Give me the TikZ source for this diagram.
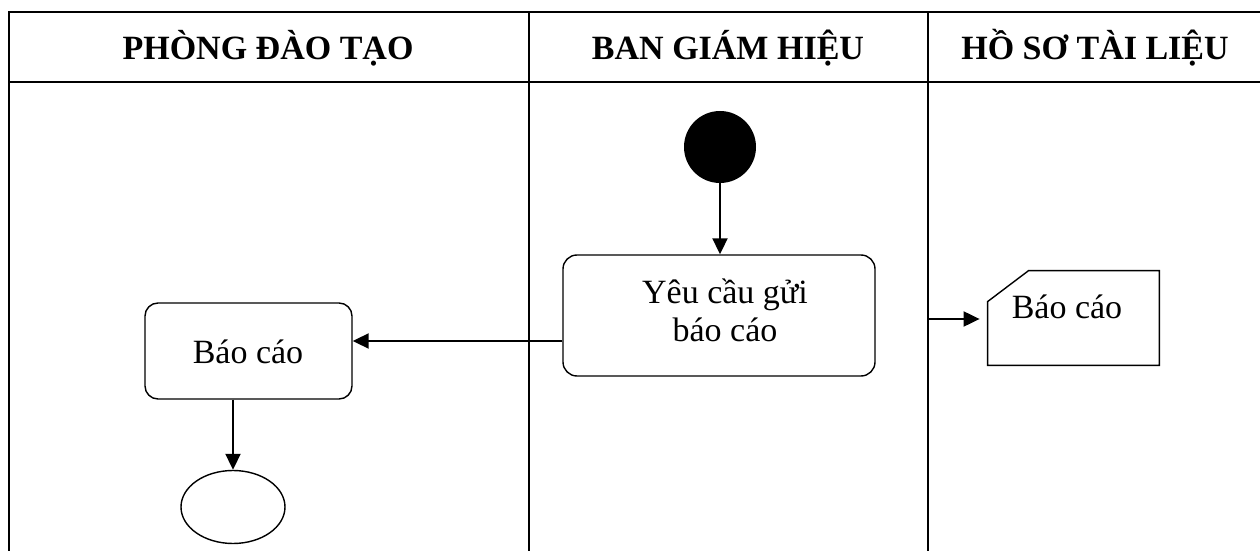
\documentclass[tikz,border=0pt]{standalone}
\usepackage{fontspec}
\setmainfont{Liberation Serif}
\usetikzlibrary{arrows.meta,shapes.geometric}
\begin{document}
\begin{tikzpicture}[x=0.5pt,y=-0.5pt,
  lane/.style={line width=1pt},
  hdr/.style={font=\fontsize{17}{19}\selectfont\bfseries, anchor=base, inner sep=0pt},
  txt/.style={font=\fontsize{17}{19.5}\selectfont, anchor=base, inner sep=0pt},
  act/.style={draw, line width=0.7pt, rounded corners=7pt, inner sep=0pt},
  flow/.style={line width=1pt, -{Triangle[length=8pt,width=7.5pt]}},
]
\useasboundingbox (0,0) rectangle (1260,551);
% swimlane frame
\coordinate (tl) at (9,12);
\coordinate (hl) at (9,82);
\coordinate (c1) at (529,12);
\coordinate (c2) at (928,12);
\draw[lane] (1270,12) -- (tl) -- (9,560);
\draw[lane] (hl) -- (1270,82);
\draw[lane] (c1) -- (529,560);
\draw[lane] (c2) -- (928,560);
% headers
\node[hdr] (h1) at (268,60) {PHÒNG ĐÀO TẠO};
\node[hdr] (h2) at (728,60) {BAN GIÁM HIỆU};
\node[hdr] (h3) at (1095,60) {HỒ SƠ TÀI LIỆU};
% start
\node[circle, fill=black, minimum size=36pt, inner sep=0pt] (start) at (720,147) {};
% request box
\node[act, minimum width=156pt, minimum height=60.5pt] (req) at (719,315.5) {};
\node[txt] (reqa) at (725,303) {Yêu cầu gửi};
\node[txt] (reqb) at (725,342) {báo cáo};
% report box
\node[act, rounded corners=6.5pt, minimum width=103.5pt, minimum height=48pt] (rep) at (248.5,351) {};
\node[txt] (rept) at (248,363) {Báo cáo};
% end ellipse
\node[ellipse, draw, line width=0.7pt, minimum width=52pt, minimum height=36.5pt, inner sep=0pt] (fin) at (233,507) {};
% document
\node[minimum width=85.5pt, minimum height=47pt, inner sep=0pt] (doc) at (1073.5,318) {};
\draw[line width=0.7pt] (doc.south west) -- ([yshift=-15.5pt]doc.north west) -- ([xshift=20.5pt]doc.north west) -- (doc.north east) -- (doc.south east) -- cycle;
\node[txt] (doct) at (1067,319) {Báo cáo};
% connectors
\coordinate (ay) at (0,341);
\coordinate (dy) at (928,319);
\draw[flow] (start) -- (start |- req.north);
\draw[flow] (req.west |- ay) -- (rep.east |- ay);
\draw[flow] (fin.north |- rep.south) -- (fin.north);
\draw[flow] (dy) -- ([xshift=-4pt]doc.west |- dy);
\end{tikzpicture}
\end{document}
